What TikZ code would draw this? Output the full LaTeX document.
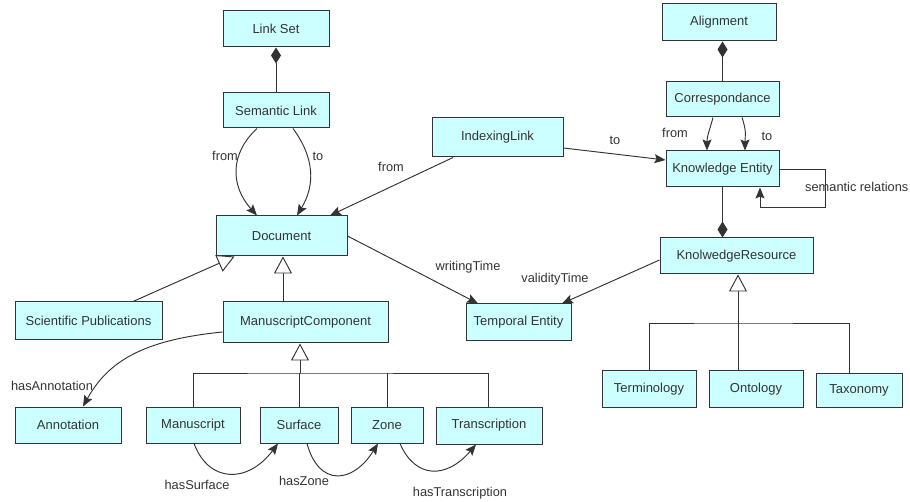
\documentclass[tikz,border=0pt]{standalone}
\usepackage{fontspec}
\setmainfont{Liberation Sans}
\usetikzlibrary{arrows.meta}
\definecolor{boxfill}{HTML}{CCFFFF}
\definecolor{ink}{HTML}{333333}
\begin{document}
\begin{tikzpicture}[x=1pt,y=-1pt,
 cls/.style={draw=ink, fill=boxfill, line width=1pt, text=ink, font=\fontsize{13}{15}\selectfont, inner sep=0pt, anchor=center},
 lbl/.style={text=ink, font=\fontsize{12.8}{15}\selectfont, inner sep=1pt},
 conn/.style={draw=ink, line width=0.95pt},
 assoc/.style={conn, -{Stealth[length=11pt,width=9pt,inset=2pt]}},
 comp/.style={conn, {Diamond[length=16pt,width=10pt]}-},
 compend/.style={conn, -{Diamond[length=16pt,width=10pt]}},
 inh/.style={conn, -{Triangle[open,length=17pt,width=18pt,fill=white]}}
]
\useasboundingbox (0,0) rectangle (910,502);
% classes
\node[cls, minimum width=106pt, minimum height=36pt] (linkset) at (276,29) {Link Set};
\node[cls, minimum width=106pt, minimum height=35pt] (semlink) at (276,110.5) {Semantic Link};
\node[cls, minimum width=131pt, minimum height=40pt] (document) at (281.5,236) {Document};
\node[cls, minimum width=131pt, minimum height=39pt] (indexing) at (497.5,137.5) {IndexingLink};
\node[cls, minimum width=114pt, minimum height=37pt] (alignment) at (719,22.5) {Alignment};
\node[cls, minimum width=113pt, minimum height=35pt] (corresp) at (722.5,99.5) {Correspondance};
\node[cls, minimum width=113pt, minimum height=36pt] (ke) at (722.5,169) {Knowledge Entity};
\node[cls, minimum width=153pt, minimum height=36pt] (kr) at (736.5,256) {KnolwedgeResource};
\node[cls, minimum width=94pt, minimum height=36pt] (terminology) at (649,389) {Terminology};
\node[cls, minimum width=94pt, minimum height=36pt] (ontology) at (756,389) {Ontology};
\node[cls, minimum width=86pt, minimum height=33pt] (taxonomy) at (859,390.5) {Taxonomy};
\node[cls, minimum width=147pt, minimum height=38pt] (scipub) at (88.5,321) {Scientific Publications};
\node[cls, minimum width=165pt, minimum height=41pt] (mc) at (305.5,322.5) {ManuscriptComponent};
\node[cls, minimum width=106pt, minimum height=36pt] (annotation) at (68,425) {Annotation};
\node[cls, minimum width=94pt, minimum height=36pt] (manuscript) at (193,425) {Manuscript};
\node[cls, minimum width=78pt, minimum height=36pt] (surface) at (299,425) {Surface};
\node[cls, minimum width=72pt, minimum height=36pt] (zone) at (387,425) {Zone};
\node[cls, minimum width=106pt, minimum height=37pt] (transcription) at (489,425.5) {Transcription};
\node[cls, minimum width=105pt, minimum height=37pt] (temporal) at (518.5,322.5) {Temporal Entity};
% compositions
\draw[comp] (linkset.south) -- (semlink.north);
\draw[comp] (corresp.north |- alignment.south) -- (corresp.north);
\draw[compend] (ke.south) -- (ke.south |- kr.north);
% semantic link
\draw[assoc] ([xshift=-19pt]semlink.south) .. controls +(-27,25) and +(-27,-30) .. ([xshift=-24.5pt]document.north);
\draw[assoc] ([xshift=17pt]semlink.south) .. controls +(22,30) and +(18,-30) .. ([xshift=15.5pt]document.north);
\node[lbl] (l1) at (225,156) {from};
\node[lbl] (l2) at (318,156) {to};
% indexing link
\draw[assoc] ([xshift=-44.5pt]indexing.south) -- ([xshift=48.5pt]document.north);
\draw[assoc] ([yshift=-10.5pt]indexing.east) -- ([yshift=9pt]ke.west);
\node[lbl] (l3) at (391,167) {from};
\node[lbl] (l4) at (615,140) {to};
% correspondance
\draw[assoc] ([xshift=-9.5pt]corresp.south) .. controls +(-4,15) and +(0,-15) .. ([xshift=-15.5pt]ke.north);
\draw[assoc] ([xshift=19.5pt]corresp.south) .. controls +(5,15) and +(0,-15) .. ([xshift=22.5pt]ke.north);
\node[lbl] (l5) at (675,133) {from};
\node[lbl] (l6) at (767,136) {to};
% semantic relations loop
\draw[assoc] (ke.east) -- ++(45.5,0) -- ++(0,38) -| ([xshift=37.5pt]ke.south);
\node[lbl, anchor=west] (l7) at (804,187) {semantic relations};
% temporal
\draw[assoc] (document.east) -- ([xshift=-40.5pt]temporal.north);
\draw[assoc] ([yshift=-4pt]kr.west) -- ([xshift=43.5pt]temporal.north);
\node[lbl] (l8) at (468,267) {writingTime};
\node[lbl] (l9) at (555,279) {validityTime};
% inheritance document
\draw[inh] ([xshift=-22.5pt]mc.north) -- ([xshift=-22.5pt]mc.north |- document.south);
\draw[inh] ([xshift=44.5pt]scipub.north) -- ([xshift=-47pt]document.south);
% inheritance manuscript component
\coordinate (mcbar) at (300,373);
\draw[inh] (mcbar) -- (mcbar |- mc.south);
\draw[conn] (manuscript.north) |- (mcbar) -| ([xshift=-1pt]transcription.north);
\draw[conn] (surface.north) -- (surface.north |- mcbar);
\draw[conn] (zone.north) -- (zone.north |- mcbar);
% inheritance knowledge resource
\coordinate (krbar) at (738,323);
\draw[inh] (krbar) -- (krbar |- kr.south);
\draw[conn] (terminology.north) |- (krbar) -| ([xshift=-10pt]taxonomy.north);
\draw[conn] (ontology.north -| krbar) -- (krbar);
% annotation and parts
\draw[assoc] ([yshift=-9.5pt]mc.west) .. controls +(-80,8) and +(25,-45) .. ([xshift=15pt]annotation.north);
\node[lbl] (l10) at (52,386) {hasAnnotation};
\draw[assoc] ([xshift=1pt]manuscript.south) .. controls +(15,40) and +(-30,40) .. ([xshift=-21pt]surface.south);
\draw[assoc] ([xshift=8pt]surface.south) .. controls +(12,44) and +(-25,40) .. ([xshift=-9pt]zone.south);
\draw[assoc] ([xshift=13pt]zone.south) .. controls +(15,35) and +(-30,35) .. ([xshift=-13pt]transcription.south);
\node[lbl] (l11) at (197,485) {hasSurface};
\node[lbl] (l12) at (304,481) {hasZone};
\node[lbl] (l13) at (460,493) {hasTranscription};
\end{tikzpicture}
\end{document}
